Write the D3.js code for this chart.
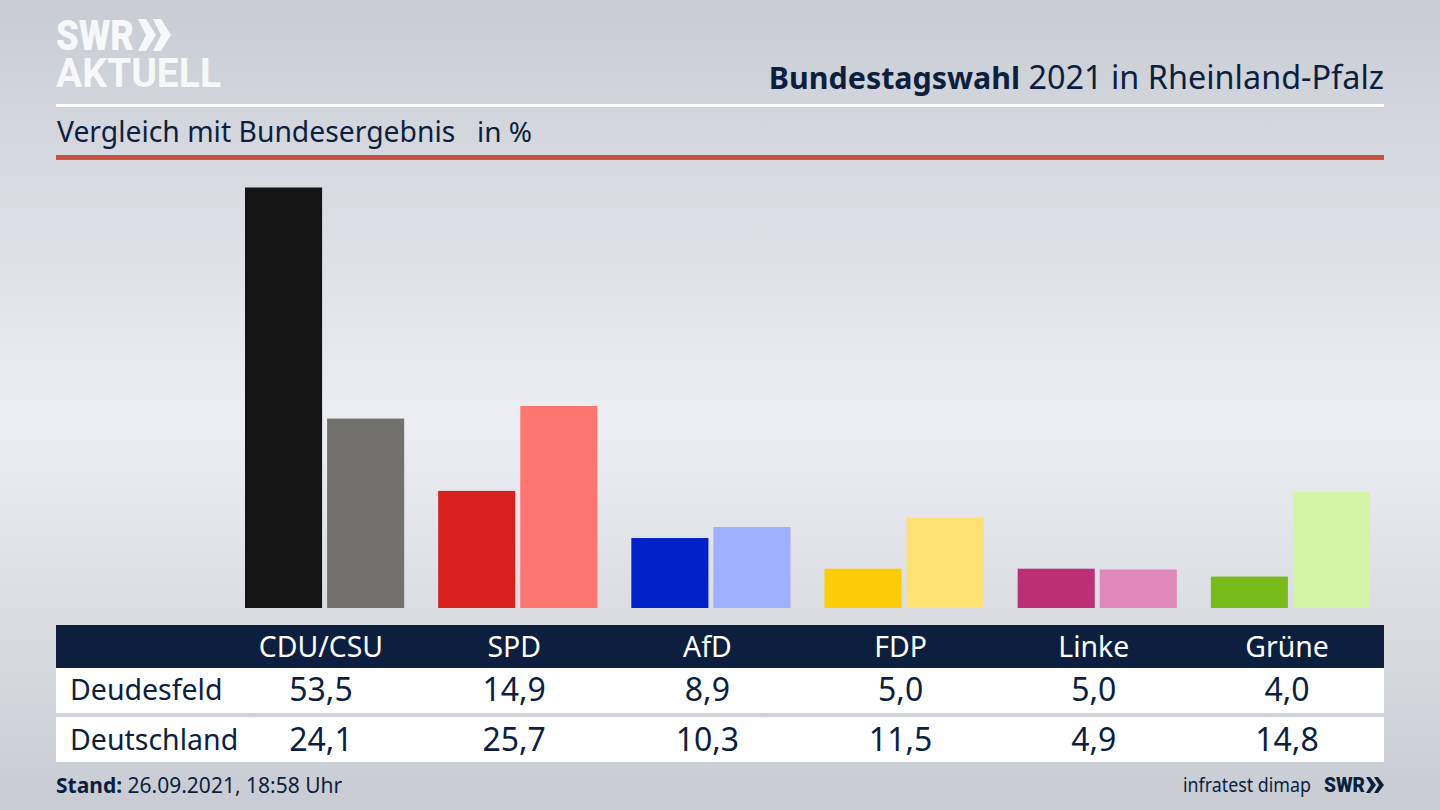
<!DOCTYPE html>
<html>
<head>
<meta charset="utf-8">
<script src="https://cdn.jsdelivr.net/npm/d3@7"></script>
<style>
  html, body { margin: 0; padding: 0; overflow: hidden; }
  text { font-family: "Noto Sans", sans-serif; fill: #0c1f3f; }
</style>
</head>
<body>
<div id="chart"></div>
<script>
// data
const parties = ["CDU/CSU", "SPD", "AfD", "FDP", "Linke", "Grüne"];
const deudesfeld = [53.5, 14.9, 8.9, 5.0, 5.0, 4.0];
const deutschland = [24.1, 25.7, 10.3, 11.5, 4.9, 14.8];
const rowNames = ["Deudesfeld", "Deutschland"];
const colorsLocal = ["#141414", "#d8201f", "#0022c8", "#fecb08", "#bb2f77", "#78bc1c"];
const colorsFederal = ["#72716e", "#ff7570", "#9fb0ff", "#ffe072", "#e088b8", "#d3f6a6"];

const width = 1440, height = 810;
const navy = "#0c1f3f";

const svg = d3.select("#chart").append("svg")
    .attr("width", width)
    .attr("height", height)
    .style("display", "block");

// background
const grad = svg.append("defs").append("linearGradient")
    .attr("id", "bg")
    .attr("x1", 0).attr("y1", 0).attr("x2", 0).attr("y2", 1);
grad.append("stop").attr("offset", "0%").attr("stop-color", "#c9ccd3");
grad.append("stop").attr("offset", "52%").attr("stop-color", "#eceef3");
grad.append("stop").attr("offset", "100%").attr("stop-color", "#c8cbd1");
svg.append("rect").attr("width", width).attr("height", height).attr("fill", "url(#bg)");

// logo, one text with two lines
const logo = svg.append("text")
    .style("font-family", "Roboto, sans-serif")
    .style("fill", "#f7f8f9");
logo.append("tspan").attr("x", 56).attr("y", 50)
    .style("font-size", "43px").style("font-weight", 900)
    .attr("textLength", 78).attr("lengthAdjust", "spacingAndGlyphs")
    .text("SWR");
logo.append("tspan").attr("x", 56).attr("y", 87)
    .style("font-size", "41px").style("font-weight", 700)
    .attr("textLength", 165).attr("lengthAdjust", "spacingAndGlyphs")
    .text("AKTUELL");
const logoChevrons = svg.append("g").attr("fill", "#f7f8f9");
[138, 153].forEach(x => {
    logoChevrons.append("path")
        .attr("d", `M${x},19 L${x + 8},19 L${x + 18},35 L${x + 8},51 L${x},51 L${x + 8},35 Z`);
});

// header
const title = svg.append("text").attr("x", 1384).attr("y", 89)
    .attr("text-anchor", "end");
title.append("tspan").style("font-weight", 700).style("font-size", "30.4px").text("Bundestagswahl");
title.append("tspan").style("font-size", "32.4px").text(" 2021 in Rheinland-Pfalz");

svg.append("rect").attr("x", 56).attr("y", 104).attr("width", 1328).attr("height", 3).attr("fill", "#ffffff");

svg.append("text").attr("x", 57).attr("y", 142)
    .style("font-size", "28.3px")
    .text("Vergleich mit Bundesergebnis");
svg.append("text").attr("x", 477).attr("y", 142)
    .style("font-size", "28px")
    .text("in %");

svg.append("rect").attr("x", 56).attr("y", 155).attr("width", 1328).attr("height", 5).attr("fill", "#c9523e");

// bars
const x0 = d3.scaleBand().domain(parties).range([245, 1370]).paddingInner(0.176);
const x1 = d3.scaleBand().domain([0, 1]).range([0, x0.bandwidth()]).paddingInner(0.061);
const y = d3.scaleLinear().domain([0, 53.5]).range([608, 187.5]);

const groups = svg.selectAll(".party")
    .data(parties)
    .enter().append("g")
    .attr("class", "party")
    .attr("transform", d => "translate(" + x0(d) + ",0)");

groups.append("rect")
    .attr("x", x1(0))
    .attr("width", x1.bandwidth())
    .attr("y", (d, i) => y(deudesfeld[i]))
    .attr("height", (d, i) => y(0) - y(deudesfeld[i]))
    .attr("fill", (d, i) => colorsLocal[i]);

groups.append("rect")
    .attr("x", x1(1))
    .attr("width", x1.bandwidth())
    .attr("y", (d, i) => y(deutschland[i]))
    .attr("height", (d, i) => y(0) - y(deutschland[i]))
    .attr("fill", (d, i) => colorsFederal[i]);

// table
const col = d3.scalePoint().domain(parties).range([321, 1287]);
const fmt = v => v.toFixed(1).replace(".", ",");

svg.append("rect").attr("x", 56).attr("y", 625).attr("width", 1328).attr("height", 43).attr("fill", navy);
svg.append("rect").attr("x", 56).attr("y", 668).attr("width", 1328).attr("height", 45).attr("fill", "#ffffff");
svg.append("rect").attr("x", 56).attr("y", 717).attr("width", 1328).attr("height", 45).attr("fill", "#ffffff");

svg.selectAll(".head")
    .data(parties)
    .enter().append("text")
    .attr("class", "head")
    .attr("x", d => col(d))
    .attr("y", 657)
    .attr("text-anchor", "middle")
    .style("font-size", "28.4px")
    .style("fill", "#ffffff")
    .text(d => d);

[deudesfeld, deutschland].forEach((row, r) => {
    const base = r === 0 ? 700 : 750;
    svg.append("text").attr("x", 70).attr("y", base)
        .style("font-size", "28.5px")
        .text(rowNames[r]);
    svg.selectAll(".val" + r)
        .data(row)
        .enter().append("text")
        .attr("class", "val" + r)
        .attr("x", (d, i) => col(parties[i]))
        .attr("y", base + 1)
        .attr("text-anchor", "middle")
        .style("font-size", "32px")
        .text(d => fmt(d));
});

// footer
const stand = svg.append("text").attr("x", 56).attr("y", 793).style("font-size", "21px");
stand.append("tspan").style("font-weight", 700).text("Stand:");
stand.append("tspan").text(" 26.09.2021, 18:58 Uhr");

svg.append("text").attr("x", 1183).attr("y", 792)
    .style("font-size", "20px")
    .attr("textLength", 128).attr("lengthAdjust", "spacingAndGlyphs")
    .text("infratest dimap");
svg.append("text").attr("x", 1324).attr("y", 792)
    .style("font-size", "20px").style("font-weight", 900)
    .style("font-family", "Roboto, sans-serif")
    .attr("textLength", 41).attr("lengthAdjust", "spacingAndGlyphs")
    .text("SWR");
const smallChevrons = svg.append("g").attr("fill", navy);
[1366, 1374].forEach(x => {
    smallChevrons.append("path")
        .attr("d", `M${x},777 L${x + 4},777 L${x + 10},785 L${x + 4},793 L${x},793 L${x + 5},785 Z`);
});
</script>
</body>
</html>
